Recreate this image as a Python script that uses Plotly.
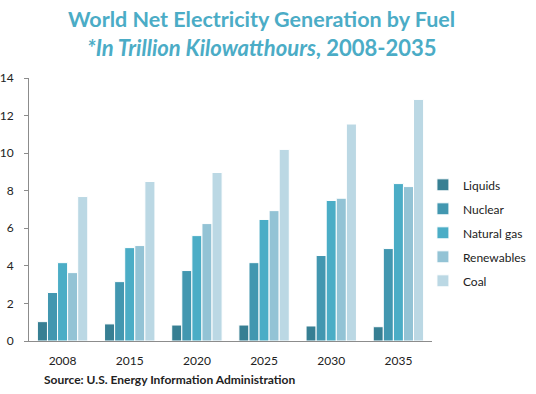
import plotly.graph_objects as go

years = ["2008", "2015", "2020", "2025", "2030", "2035"]
fuels = ["Liquids", "Nuclear", "Natural gas", "Renewables", "Coal"]
liquids = [1.03, 0.91, 0.85, 0.85, 0.80, 0.76]
nuclear = [2.58, 3.16, 3.75, 4.17, 4.55, 4.92]
natural_gas = [4.17, 4.97, 5.61, 6.47, 7.48, 8.38]
renewables = [3.64, 5.08, 6.25, 6.94, 7.60, 8.22]
coal = [7.69, 8.49, 8.97, 10.20, 11.55, 12.86]
series = [liquids, nuclear, natural_gas, renewables, coal]
colors = ["#377f93", "#4297b0", "#4badc6", "#93c3d5", "#bbd8e4"]
y_ticks = [0, 2, 4, 6, 8, 10, 12, 14]

FONT = "Lato"
fig = go.Figure()
for name, vals, col in zip(fuels, series, colors):
    fig.add_trace(go.Bar(
        x=years, y=vals, name=name, legendgroup=name,
        marker=dict(color=col, line=dict(color="white", width=1)),
    ))

fig.update_layout(
    width=536, height=394,
    margin=dict(l=29, r=104, t=78, b=53, autoexpand=False),
    paper_bgcolor="white", plot_bgcolor="white",
    barmode="group", bargap=0.25, bargroupgap=0,
    font=dict(family=FONT, size=12, color="#222222"),
    showlegend=True,
    legend=dict(x=0.9775, y=0.649, xanchor="left", yanchor="top",
                traceorder="grouped", tracegroupgap=5,
                font=dict(family=FONT, size=12, color="#222222"),
                itemwidth=30, bgcolor="rgba(0,0,0,0)"),
    xaxis=dict(showline=True, linecolor="#8c8c8c", linewidth=1, automargin=False,
               showgrid=False, ticks="outside", ticklen=9, tickcolor="rgba(0,0,0,0)",
               tickfont=dict(family=FONT, size=12, color="#222222")),
    yaxis=dict(range=[0, 14], tickvals=y_ticks, showgrid=False, zeroline=False,
               showline=True, linecolor="#8c8c8c", linewidth=1, automargin=False,
               ticks="outside", ticklen=4, tickcolor="#8c8c8c",
               ticklabelstandoff=8,
               tickfont=dict(family=FONT, size=12, color="#222222")),
    annotations=[
        dict(text="<b>World Net Electricity Generation by Fuel</b>",
             xref="paper", yref="paper", x=0.577, y=1.224,
             xanchor="center", yanchor="middle", showarrow=False,
             font=dict(family=FONT, size=21.5, color="#4bacc6")),
        dict(text="<b><i>*In Trillion Kilowatthours</i>, 2008-2035</b>",
             xref="paper", yref="paper", x=0.577, y=1.115,
             xanchor="center", yanchor="middle", showarrow=False,
             font=dict(family=FONT, size=22, color="#4bacc6")),
        dict(text="<b>Source: U.S. Energy Information Administration</b>",
             xref="paper", yref="paper", x=0.032, y=-0.148,
             xanchor="left", yanchor="middle", showarrow=False,
             font=dict(family=FONT, size=12, color="#222222")),
    ],
)

fig.write_html("out.html", config={"displayModeBar": False},
               post_script="document.body.style.margin='0';")
